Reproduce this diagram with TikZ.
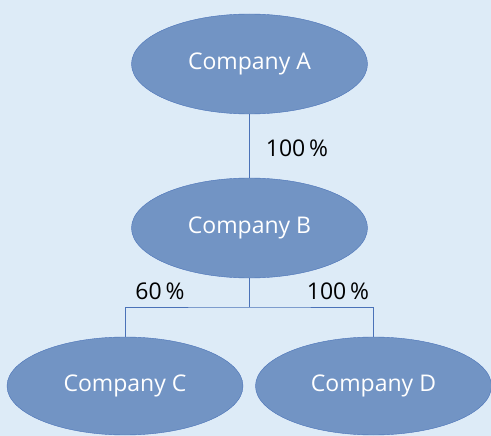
\documentclass[tikz,border=0pt]{standalone}
\usepackage{fontspec}
\setmainfont{Open Sans}
\usepackage{tikz}
\usetikzlibrary{positioning,shapes.geometric}
\definecolor{paleblue}{HTML}{DDEBF7}
\definecolor{firmfill}{HTML}{7294C4}
\definecolor{firmline}{HTML}{4A72B8}

\begin{document}
\begin{tikzpicture}[
x=1pt,y=-1pt,
firm/.style={
  draw=firmline,
  fill=firmfill,
  ellipse,
  inner sep=0pt,
  minimum width=236pt,
  minimum height=100pt,
  text=white,
  font=\fontsize{23}{27}\selectfont
},
share/.style={
  font=\fontsize{23}{27}\selectfont,
  text=black
},
link/.style={
  draw=firmline,
  line width=0.9pt
}
]
\fill[paleblue] (0,0) rectangle (491,436);
\useasboundingbox (0,0) rectangle (491,436);

\node[firm] (A) at (249.5,64) {\raisebox{-2pt}{Company A}};
\node[firm] (B) at (249.5,228) {\raisebox{-2pt}{Company B}};
\node[firm,minimum height=98pt] (C) at (125,386) {\raisebox{-2pt}{Company C}};
\node[firm,minimum height=98pt] (D) at (373.5,386) {\raisebox{-2pt}{Company D}};

\coordinate (split) at (249.5,307);

\draw[link] (A) -- (B);
\draw[link] (B) -- (split);
\draw[link] (C.north) |- (split) -| (D.north);

\node[share] (pAB) at (297,148) {100\,\%};
\node[share] (pBC) at (160,291) {60\,\%};
\node[share] (pBD) at (338,291) {100\,\%};

\end{tikzpicture}
\end{document}
